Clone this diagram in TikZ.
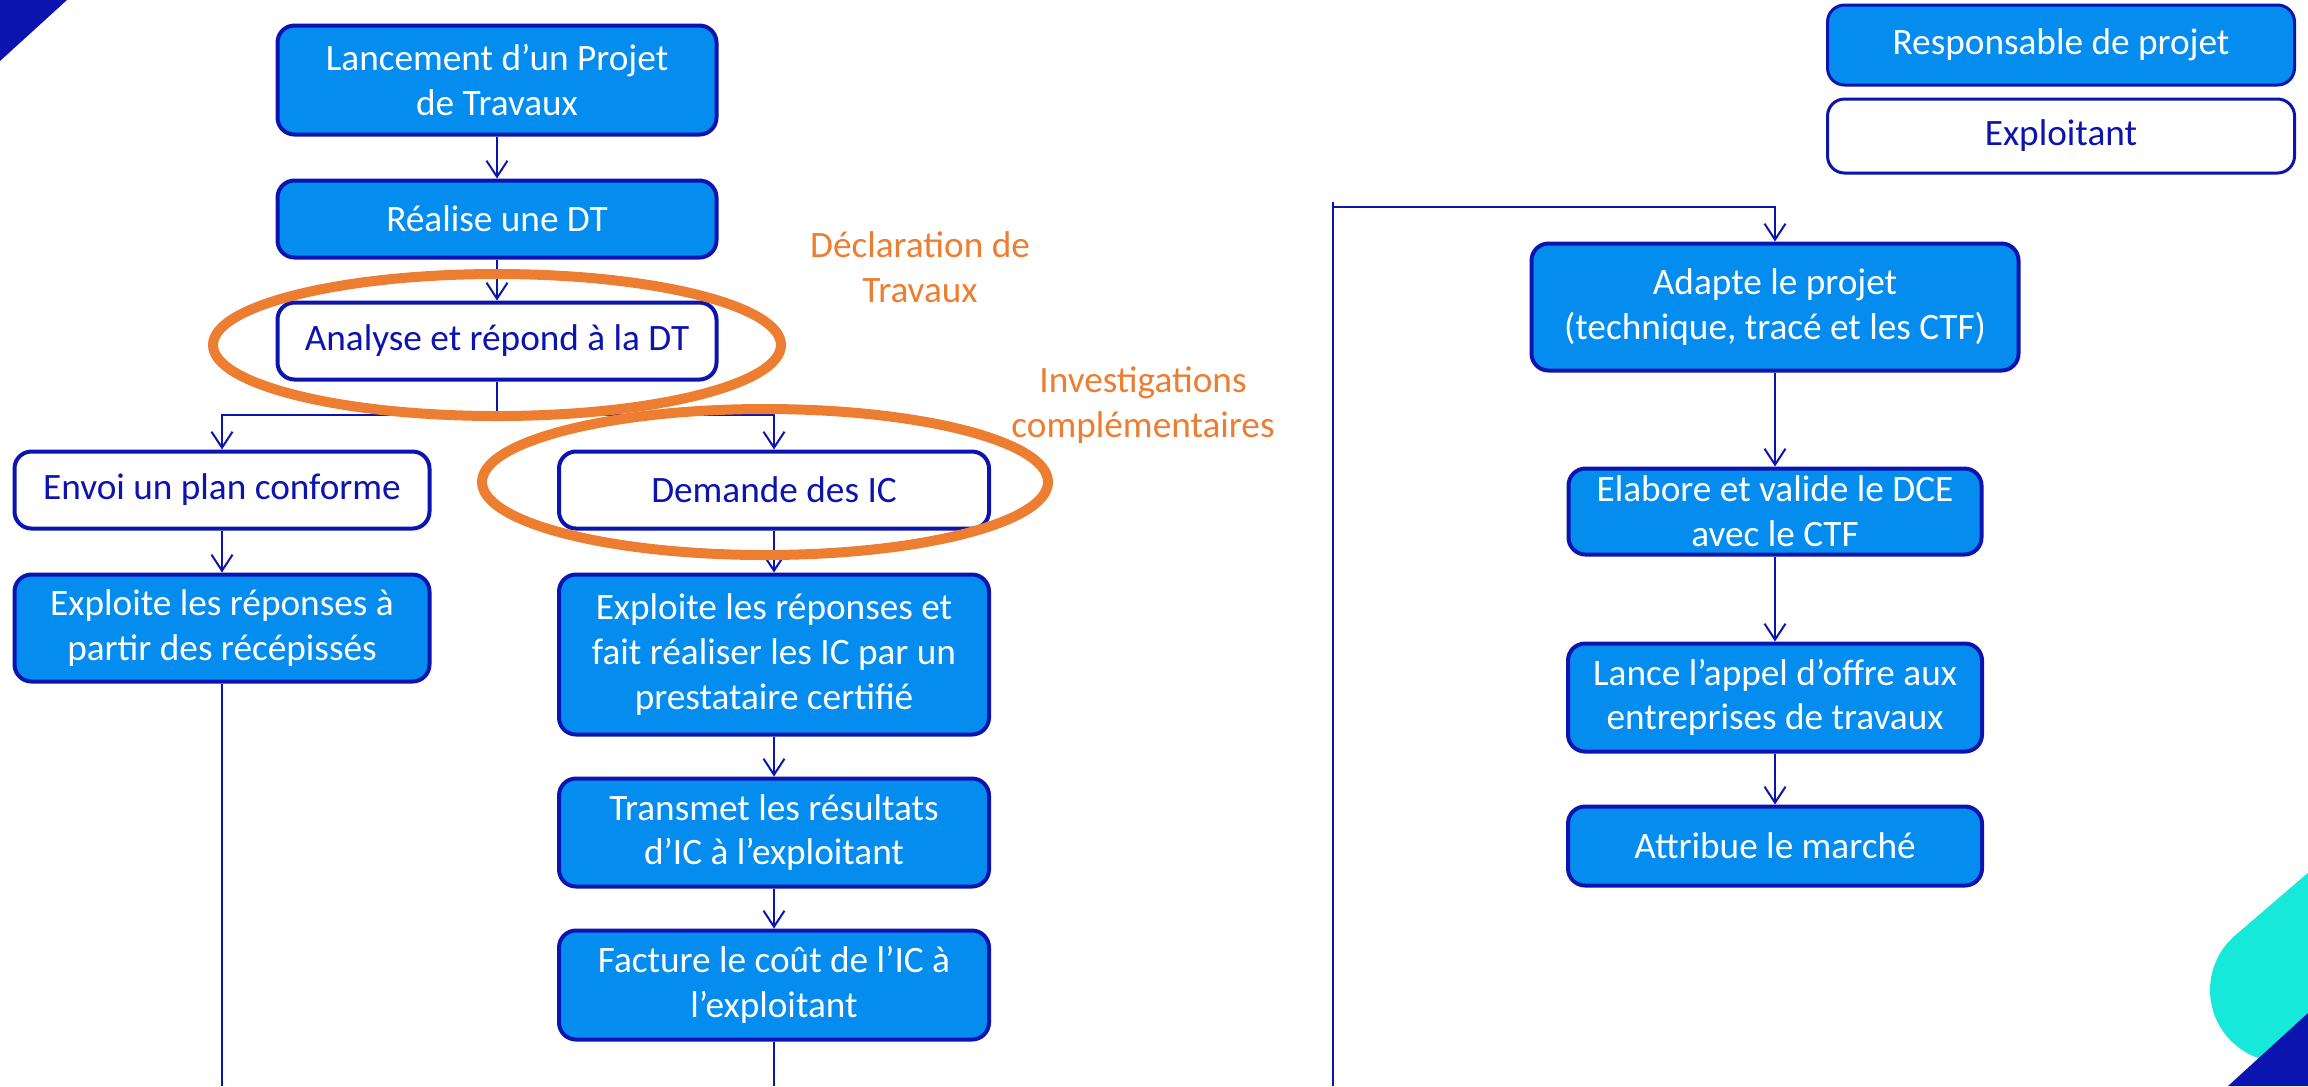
\documentclass[tikz,border=0pt]{standalone}
\usepackage{fontspec}
\setmainfont{Carlito}
\usetikzlibrary{arrows.meta,positioning}

\definecolor{dtblue}{RGB}{12,20,175}
\definecolor{boxblue}{RGB}{4,141,239}
\definecolor{dtorange}{RGB}{237,125,49}
\definecolor{cornerteal}{RGB}{22,232,218}

\begin{document}
\begin{tikzpicture}[x=0.1mm, y=-0.1mm, >={Straight Barb[length=1.6mm,width=2.1mm]},
  every node/.style={align=center, font=\fontsize{10.6}{12.7}\selectfont},
  resp/.style={draw=dtblue, line width=0.4mm, rounded corners=1.7mm, fill=boxblue, text=white, inner sep=0.2mm},
  expl/.style={draw=dtblue, line width=0.4mm, rounded corners=1.7mm, fill=white, text=dtblue, inner sep=0.2mm},
  link/.style={draw=dtblue, line width=0.2mm},
  ring/.style={draw=dtorange, line width=1mm},
  note/.style={text=dtorange}]
\useasboundingbox (0,0) rectangle (2308,1086);

\fill[dtblue] (0,0) -- (67,0) -- (0,61) -- cycle;
\draw[cornerteal, line width=14.4mm, line cap=round] (2282,990) -- ++(304,-261);
\fill[dtblue] (2308,1013) -- (2228,1086) -- (2308,1086) -- cycle;

\node (lancement) [resp, minimum width=43.9mm, minimum height=10.9mm] at (497,80) {Lancement d’un Projet\\de Travaux};
\node (realise) [resp, node distance=1.39cm, below of=lancement, minimum width=43.9mm, minimum height=7.7mm] {Réalise une DT};
\node (analyse) [expl, node distance=1.22cm, below of=realise, minimum width=43.9mm, minimum height=7.7mm] {Analyse et répond à la DT};

\node (envoi) [expl, minimum width=41.5mm, minimum height=7.7mm] at (222,490) {Envoi un plan conforme};
\node (recepisse) [resp, node distance=1.38cm, below of=envoi, minimum width=41.5mm, minimum height=10.7mm] {Exploite les réponses à\\partir des récépissés};

\node (demande) [expl, minimum width=43mm, minimum height=7.7mm] at (774,490) {Demande des IC};
\node (prestataire) [resp, node distance=1.645cm, below of=demande, minimum width=43mm, minimum height=16mm] {Exploite les réponses et\\fait réaliser les IC par un\\prestataire certifié};
\node (transmet) [resp, node distance=1.78cm, below of=prestataire, minimum width=43mm, minimum height=10.8mm] {Transmet les résultats\\d’IC à l’exploitant};
\node (facture) [resp, node distance=1.525cm, below of=transmet, minimum width=43mm, minimum height=10.9mm] {Facture le coût de l’IC à\\l’exploitant};

\node (legresp) [resp, line width=0.3mm, minimum width=46.7mm, minimum height=8mm] at (2061,45) {Responsable de projet};
\node (legexpl) [expl, line width=0.3mm, node distance=0.91cm, below of=legresp, minimum width=46.7mm, minimum height=7.4mm] {Exploitant};

\node (adapte) [resp, minimum width=48.7mm, minimum height=12.7mm] at (1775,307) {Adapte le projet\\(technique, tracé et les CTF)};
\node (elabore) [resp, node distance=2.045cm, below of=adapte, minimum width=41.3mm, minimum height=8.6mm] {Elabore et valide le DCE\\avec le CTF};
\node (lance) [resp, node distance=1.86cm, below of=elabore, minimum width=41.4mm, minimum height=10.8mm] {Lance l’appel d’offre aux\\entreprises de travaux};
\node (attribue) [resp, node distance=1.485cm, below of=lance, minimum width=41.4mm, minimum height=7.9mm] {Attribue le marché};

\node (dtnote) [note] at (920,267) {Déclaration de\\Travaux};
\node (icnote) [note] at (1143,405) {Investigations\\complémentaires};

\coordinate (split) at (497,415);
\coordinate (outA) at (222,1086);
\coordinate (outB) at (774,1086);
\coordinate (inC) at (1333,1086);
\coordinate (topC) at (1333,202);
\coordinate (turnC) at (1333,207);

\draw[link, ->] (lancement) -- (realise);
\draw[link, ->] (realise) -- (analyse);
\draw[link] (analyse) -- (split);
\draw[link, ->] (split) -| (envoi);
\draw[link, ->] (split) -| (demande);
\draw[link, ->] (envoi) -- (recepisse);
\draw[link] (recepisse) -- (outA);
\draw[link, ->] (demande) -- (prestataire);
\draw[link, ->] (prestataire) -- (transmet);
\draw[link, ->] (transmet) -- (facture);
\draw[link] (facture) -- (outB);
\draw[link] (inC) -- (topC);
\draw[link, ->] (turnC) -| (adapte);
\draw[link, ->] (adapte) -- (elabore);
\draw[link, ->] (elabore) -- (lance);
\draw[link, ->] (lance) -- (attribue);

\draw[ring] (497,345) ellipse (284 and 71);
\draw[ring] (765,482) ellipse (283 and 73);
\end{tikzpicture}
\end{document}
